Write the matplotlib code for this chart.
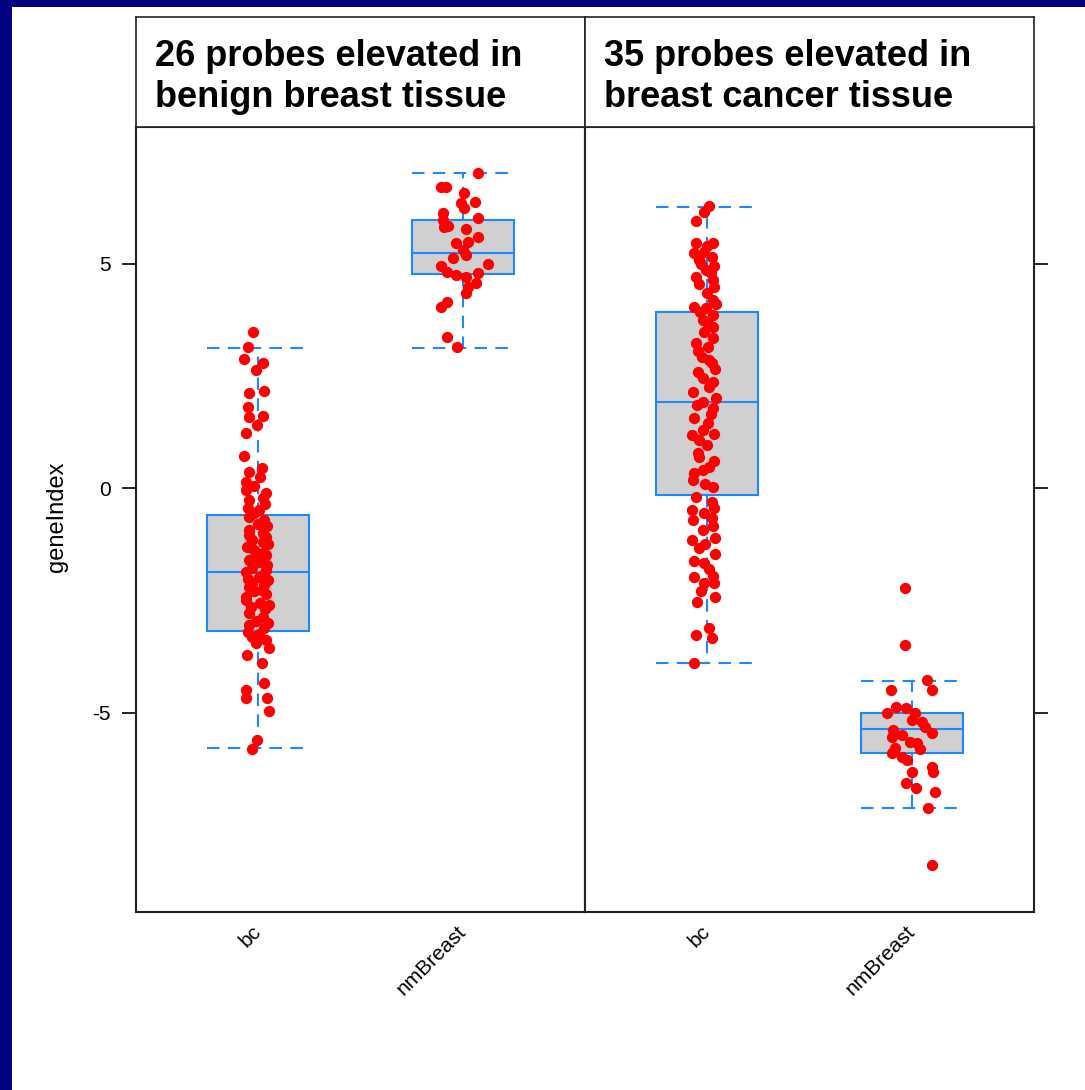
import numpy as np
import matplotlib
matplotlib.use("Agg")
import matplotlib.pyplot as plt
import matplotlib.transforms as mtransforms
from matplotlib.patches import Rectangle

plt.rcParams['font.family'] = ['Liberation Sans', 'DejaVu Sans']
plt.rcParams['axes.unicode_minus'] = False

# ---------------- data ----------------
groups = ["bc", "nmBreast"]
panel_titles = ["26 probes elevated in\nbenign breast tissue",
                "35 probes elevated in\nbreast cancer tissue"]
y_label = "geneIndex"
y_ticks = [-5, 0, 5]

# box statistics  [panel][group]
box_whislo = [[-5.79, 3.12], [-3.90, -7.13]]
box_q1 = [[-3.18, 4.77], [-0.16, -5.90]]
box_med = [[-1.87, 5.23], [1.92, -5.37]]
box_q3 = [[-0.60, 5.97], [3.92, -5.01]]
box_whishi = [[3.12, 7.02], [6.26, -4.30]]

# panel 1 (benign) - bc
p1_bc_y = [3.47, 3.14, 2.87, 2.78, 2.63, 2.12, 2.16, 1.80, 1.58, 1.60, 1.40, 1.22, 0.71,
           0.45, 0.36, 0.13, -0.04, -0.22, -0.27, -0.49, -0.65, -0.71, -0.94, -1.00, -1.09,
           -1.31, -1.45, -1.54, -1.87, -1.83, -1.98, -2.12, -2.16, -2.43, -2.20, -2.27, -2.49,
           -2.61, -2.78, -2.87, -3.05, -3.12, -3.32, -3.39, -3.45, -3.56, -3.72, -3.90, -4.34,
           -4.50, -4.68, -4.68, -4.97, -5.61, -5.81,
           -0.35, -0.55, -0.80, -0.85, -1.15, -1.20, -1.25, -1.38, -1.50, -1.60, -1.65, -1.72,
           -1.78, -1.92, -2.02, -2.05, -2.30, -2.35, -2.55, -2.65, -2.70, -2.95, -3.00, -3.20,
           -3.25, -0.10, 0.05, 0.25, -0.45, -1.05]
p1_bc_dx = [-0.025, -0.049, -0.069, 0.020, -0.010, -0.044, 0.029, -0.049, -0.044, 0.020, -0.005,
            -0.059, -0.069, 0.015, -0.044, -0.059, -0.059, 0.020, -0.044, 0.005, -0.044, 0.029,
            -0.044, 0.020, 0.039, -0.054, 0.020, -0.010, -0.059, 0.039, 0.005, -0.034, 0.029,
            -0.059, -0.044, 0.015, -0.059, 0.054, -0.044, 0.020, -0.044, 0.029, -0.034, 0.039,
            -0.010, 0.054, -0.054, 0.015, 0.029, -0.059, -0.059, 0.044, 0.054, -0.005, -0.034,
            0.030, -0.020, 0.000, 0.040, -0.030, 0.020, 0.045, -0.020, 0.035, -0.045, 0.010,
            0.040, -0.030, 0.025, -0.050, 0.045, -0.020, 0.035, 0.010, -0.035, 0.030, -0.010,
            0.045, -0.050, 0.005, 0.035, -0.020, 0.010, -0.050, -0.045]

# panel 1 (benign) - nmBreast
p1_nm_y = [7.02, 6.70, 6.70, 6.57, 6.35, 6.37, 6.24, 6.12, 6.01, 5.97, 5.81, 5.84, 5.77,
           5.59, 5.48, 5.46, 5.30, 5.12, 5.19, 4.94, 4.99, 4.81, 4.74, 4.70, 4.79, 4.57,
           4.48, 4.34, 4.14, 4.03, 3.36, 3.14]
p1_nm_dx = [0.074, -0.108, -0.083, 0.005, -0.010, 0.059, 0.005, -0.098, 0.074, -0.098,
            -0.093, -0.069, 0.015, 0.074, 0.025, -0.034, 0.000, -0.049, 0.015, -0.108,
            0.123, -0.074, -0.034, 0.015, 0.078, 0.064, 0.025, 0.015, -0.074, -0.108,
            -0.074, -0.025]

# panel 2 (cancer) - bc
p2_bc_y = [6.28, 6.15, 5.95, 5.46, 5.46, 5.23, 5.26, 5.08, 4.94, 4.86, 4.70, 4.63, 4.48,
           4.19, 4.03, 4.01, 3.85, 3.74, 3.59, 3.47, 3.23, 3.14, 2.92, 2.78, 2.58, 2.36,
           2.14, 1.92, 1.78, 1.56, 1.45, 1.18, 1.07, 0.78, 0.47, 0.33, 0.69, 0.18, 0.02,
           -0.20, -0.49, -0.45, -0.56, -0.71, -0.67, -0.94, -1.16, -1.11, -1.34, -1.47,
           -1.63, -1.67, -1.98, -1.96, -2.12, -2.12, -2.54, -2.43, -3.27, -3.12, -3.34, -3.90,
           5.38, 5.15, 4.98, 4.80, 4.55, 4.35, 4.10, 3.92, 3.65, 3.35, 3.05, 2.85, 2.65,
           2.45, 2.25, 2.00, 1.85, 1.65, 1.30, 1.20, 0.95, 0.60, 0.40, 0.10, -0.30, -0.85,
           -1.25, -1.80, -2.30]
p2_bc_dx = [0.010, -0.015, -0.054, -0.054, 0.029, -0.064, -0.015, -0.039, 0.034, -0.005,
            -0.054, 0.029, 0.034, 0.029, -0.064, -0.005, 0.029, -0.020, 0.029, -0.015,
            -0.054, 0.005, -0.029, 0.020, -0.044, 0.029, -0.069, -0.020, 0.029, -0.064,
            0.005, -0.078, -0.039, -0.044, 0.010, -0.064, -0.039, -0.069, 0.029, -0.054,
            -0.078, 0.034, -0.015, -0.069, 0.020, -0.020, -0.078, 0.039, -0.039, 0.039,
            -0.064, -0.015, -0.064, 0.029, -0.015, 0.034, -0.049, 0.039, -0.054, 0.010,
            0.020, -0.064,
            0.000, 0.020, -0.030, 0.015, -0.040, 0.000, 0.040, -0.035, 0.005, 0.025, -0.045,
            0.010, 0.035, -0.020, 0.010, 0.040, -0.050, 0.015, -0.020, 0.030, 0.000, 0.030,
            -0.020, -0.010, 0.020, 0.025, -0.010, 0.010, -0.030]

# panel 2 (cancer) - nmBreast
p2_nm_y = [-2.23, -3.50, -4.28, -4.50, -4.50, -4.88, -5.01, -4.90, -5.01, -5.17, -5.21,
           -5.32, -5.46, -5.39, -5.55, -5.50, -5.66, -5.68, -5.81, -5.79, -5.90, -5.99,
           -6.06, -6.33, -6.21, -6.33, -6.57, -6.68, -6.77, -7.13, -8.40]
p2_nm_dx = [-0.034, -0.034, 0.074, 0.098, -0.103, -0.074, -0.118, -0.025, 0.015, 0.000,
            0.049, 0.064, 0.098, -0.093, -0.098, -0.049, -0.010, 0.029, 0.039, -0.083,
            -0.098, -0.049, -0.020, 0.000, 0.098, 0.103, -0.025, 0.020, 0.113, 0.083, 0.098]

points_y = [[p1_bc_y, p1_nm_y], [p2_bc_y, p2_nm_y]]
points_dx = [[p1_bc_dx, p1_nm_dx], [p2_bc_dx, p2_nm_dx]]

# ---------------- layout ----------------
W, H = 1085, 1090
fig = plt.figure(figsize=(W / 100, H / 100), dpi=100)
fig.patch.set_facecolor("white")

navy = "#000080"
fig.patches.append(Rectangle((0, 0), 12 / W, 1, transform=fig.transFigure,
                             facecolor=navy, edgecolor="none", zorder=0))
fig.patches.append(Rectangle((0, 1 - 7 / H), 1, 7 / H, transform=fig.transFigure,
                             facecolor=navy, edgecolor="none", zorder=0))

def fx(px):
    return px / W

def fy(py):
    return 1 - py / H

panel_left = [136, 585]
panel_w = 449
plot_top, plot_bot = 127, 912
strip_top = 17

blue = "#2088ff"
box_fill = "#d0d0d0"
dash = (0, (6, 4))

axes = []
for p in range(2):
    ax = fig.add_axes([fx(panel_left[p]), fy(plot_bot), panel_w / W, (plot_bot - plot_top) / H])
    axes.append(ax)
    stats = []
    for g in range(2):
        stats.append(dict(med=box_med[p][g], q1=box_q1[p][g], q3=box_q3[p][g],
                          whislo=box_whislo[p][g], whishi=box_whishi[p][g], fliers=[]))
    ax.bxp(stats, positions=[1, 2], widths=0.5, capwidths=0.5, patch_artist=True,
           showfliers=False,
           boxprops=dict(facecolor=box_fill, edgecolor=blue, linewidth=1.5),
           medianprops=dict(color=blue, linewidth=1.5),
           whiskerprops=dict(color=blue, linewidth=1.5, linestyle=dash),
           capprops=dict(color=blue, linewidth=1.5, linestyle=dash))
    for g in range(2):
        xs = np.asarray(points_dx[p][g]) + (g + 1)
        ax.scatter(xs, points_y[p][g], s=66, c="#ff0000", linewidths=0, zorder=5)

    ax.set_xlim(0.4, 2.6)
    ax.set_ylim(-9.44, 8.04)
    ax.set_xticks([1, 2])
    ax.set_xticklabels(groups, rotation=45, ha="right", va="top", fontsize=15)
    ax.tick_params(axis="x", length=0, pad=7)
    offset = mtransforms.ScaledTranslation(7 / 100, 0, fig.dpi_scale_trans)
    for lab in ax.get_xticklabels():
        lab.set_transform(lab.get_transform() + offset)
    ax.set_yticks(y_ticks)
    for s in ax.spines.values():
        s.set_linewidth(1.5)
        s.set_color("#222222")
    if p == 0:
        ax.tick_params(axis="y", direction="out", length=10, width=1.2, labelsize=15, pad=8)
    else:
        ax.yaxis.tick_right()
        ax.tick_params(axis="y", direction="out", length=10, width=1.2, labelright=False,
                       left=False, labelleft=False)

    # strip
    sax = fig.add_axes([fx(panel_left[p]), fy(plot_top), panel_w / W, (plot_top - strip_top) / H])
    sax.set_xticks([])
    sax.set_yticks([])
    sax.set_facecolor("white")
    for s in sax.spines.values():
        s.set_linewidth(1.2)
        s.set_color("#222222")
    fig.text(fx(panel_left[p] + 19), fy(107), panel_titles[p], fontsize=26,
             fontweight="bold", ha="left", va="baseline", linespacing=1.22)

fig.text(fx(57), fy(517), y_label, rotation=90, ha="center", va="center", fontsize=17)

fig.savefig("out.png", dpi=100, facecolor="white")
